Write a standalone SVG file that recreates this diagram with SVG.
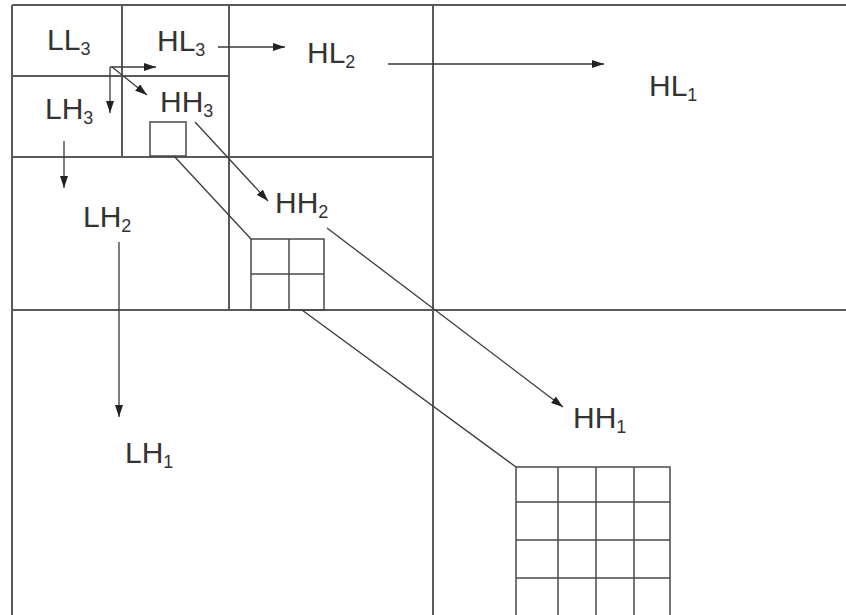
<svg xmlns="http://www.w3.org/2000/svg" width="846" height="615" viewBox="0 0 846 615">
<style>
.frame{stroke:#5a5a5a;stroke-width:2;fill:none}
.grid{stroke:#4a4a4a;stroke-width:1.5;fill:none}
.conn{stroke:#3a3a3a;stroke-width:1.3;fill:none}
.lbl{font-family:"Liberation Sans",Arial,sans-serif;font-size:30px;fill:#333}
.sub{font-size:18px}
</style>
<defs>
<marker id="ah" viewBox="0 0 12 8" refX="12" refY="4" markerWidth="12" markerHeight="8" markerUnits="userSpaceOnUse" orient="auto">
<path d="M0,0 L12,4 L0,8 Z" fill="#222"/>
</marker>
</defs>
<rect width="846" height="615" fill="#fff"/>
<g id="subbands">
<line class="frame" x1="12" y1="5" x2="846" y2="5"/>
<line class="frame" x1="12" y1="5" x2="12" y2="615"/>
<line class="frame" x1="433" y1="5" x2="433" y2="615"/>
<line class="frame" x1="12" y1="310" x2="846" y2="310"/>
<line class="frame" x1="229" y1="5" x2="229" y2="310"/>
<line class="frame" x1="12" y1="157" x2="433" y2="157"/>
<line class="frame" x1="122" y1="5" x2="122" y2="157"/>
<line class="frame" x1="12" y1="76" x2="229" y2="76"/>
</g>
<g id="block-hh3">
<rect class="grid" x="150" y="122" width="36" height="34"/>
</g>
<g id="block-hh2">
<rect class="grid" x="251" y="239" width="73" height="71"/>
<line class="grid" x1="289" y1="239" x2="289" y2="310"/>
<line class="grid" x1="251" y1="274" x2="324" y2="274"/>
</g>
<g id="block-hh1">
<rect class="grid" x="516" y="467" width="154" height="152"/>
<line class="grid" x1="558" y1="467" x2="558" y2="615"/>
<line class="grid" x1="596" y1="467" x2="596" y2="615"/>
<line class="grid" x1="634" y1="467" x2="634" y2="615"/>
<line class="grid" x1="516" y1="502" x2="670" y2="502"/>
<line class="grid" x1="516" y1="540" x2="670" y2="540"/>
<line class="grid" x1="516" y1="578" x2="670" y2="578"/>
</g>
<g id="labels">
<g id="LL3"><text class="lbl" x="47" y="50">LL<tspan class="sub" dy="5">3</tspan></text></g>
<g id="HL3"><text class="lbl" x="157" y="51">HL<tspan class="sub" dy="5">3</tspan></text></g>
<g id="LH3"><text class="lbl" x="45" y="119">LH<tspan class="sub" dy="5">3</tspan></text></g>
<g id="HH3"><text class="lbl" x="160" y="112">HH<tspan class="sub" dy="5">3</tspan></text></g>
<g id="HL2"><text class="lbl" x="307" y="63">HL<tspan class="sub" dy="5">2</tspan></text></g>
<g id="LH2"><text class="lbl" x="83" y="227">LH<tspan class="sub" dy="5">2</tspan></text></g>
<g id="HH2"><text class="lbl" x="275" y="213">HH<tspan class="sub" dy="5">2</tspan></text></g>
<g id="HL1"><text class="lbl" x="649" y="96">HL<tspan class="sub" dy="5">1</tspan></text></g>
<g id="LH1"><text class="lbl" x="125" y="463">LH<tspan class="sub" dy="5">1</tspan></text></g>
<g id="HH1"><text class="lbl" x="573" y="428">HH<tspan class="sub" dy="5">1</tspan></text></g>
</g>
<g id="connectors">
<line class="conn" x1="110" y1="67" x2="156" y2="67" marker-end="url(#ah)"/>
<line class="conn" x1="110" y1="67" x2="110" y2="113" marker-end="url(#ah)"/>
<line class="conn" x1="112" y1="67" x2="147" y2="95" marker-end="url(#ah)"/>
<line class="conn" x1="218" y1="47" x2="285" y2="47" marker-end="url(#ah)"/>
<line class="conn" x1="388" y1="64" x2="604" y2="64" marker-end="url(#ah)"/>
<line class="conn" x1="64" y1="141" x2="64" y2="188" marker-end="url(#ah)"/>
<line class="conn" x1="119" y1="242" x2="119" y2="417" marker-end="url(#ah)"/>
<line class="conn" x1="195" y1="122" x2="268" y2="201" marker-end="url(#ah)"/>
<line class="conn" x1="327" y1="228" x2="563" y2="407" marker-end="url(#ah)"/>
<line class="conn" x1="174" y1="156" x2="251" y2="239"/>
<line class="conn" x1="302" y1="310" x2="516" y2="467"/>
</g>
</svg>
